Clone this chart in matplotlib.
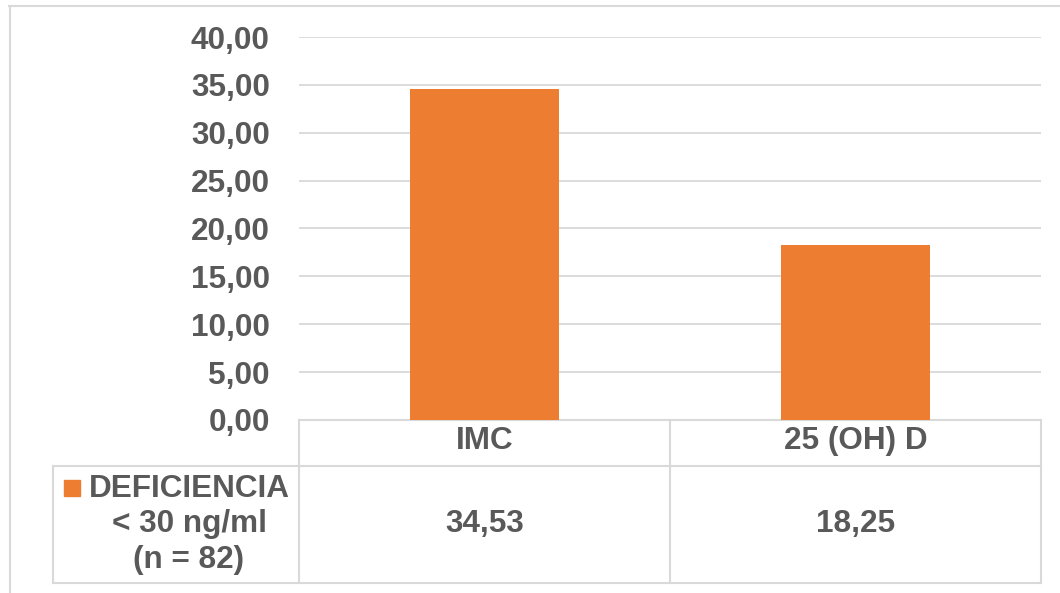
import matplotlib
matplotlib.use("Agg")
import matplotlib.pyplot as plt
from matplotlib.patches import Rectangle
from matplotlib.lines import Line2D

categorias = ["IMC", "25 (OH) D"]
valores = [34.53, 18.25]
serie = ["DEFICIENCIA", "< 30 ng/ml", "(n = 82)"]
yticks = [0, 5, 10, 15, 20, 25, 30, 35, 40]

naranja = "#ED7D31"
gris_txt = "#595959"
gris_lin = "#D9D9D9"
fs = 22.7

plt.rcParams['font.family'] = ['Liberation Sans', 'DejaVu Sans']

W, H = 1060, 593
fig = plt.figure(figsize=(W / 100, H / 100), dpi=100)

# plot area in pixels: x 299..1041, y 37..420
x0, x1, ytop, ybot = 299, 1041, 37, 420
ax = fig.add_axes([x0 / W, (H - ybot) / H, (x1 - x0) / W, (ybot - ytop) / H])

xs = list(range(len(categorias)))
ax.bar(xs, valores, width=0.4, color=naranja, zorder=3)
ax.set_xlim(-0.5, len(categorias) - 0.5)
ax.set_ylim(0, 40)
ax.set_yticks(yticks)
ax.set_yticklabels(["{:.2f}".format(v).replace(".", ",") for v in yticks],
                   fontsize=fs, fontweight="bold", color=gris_txt)
ax.tick_params(axis="y", length=0, pad=21)
ax.set_xticks([])
ax.grid(axis="y", color=gris_lin, linewidth=1.3, zorder=0)
for s in ax.spines.values():
    s.set_visible(False)

# data table under the plot (x in data units, y in axes units)
tr = ax.get_xaxis_transform()
def ay(py):
    return (ybot - py) / (ybot - ytop)

r1, r2 = ay(466), ay(583)
xleft = (53 - x0) / ((x1 - x0) / len(categorias)) - 0.5
kw = dict(color=gris_lin, linewidth=1.5, transform=tr, clip_on=False)
ax.add_line(Line2D([-0.5, 1.5], [0, 0], **kw))
ax.add_line(Line2D([xleft, 1.5], [r1, r1], **kw))
ax.add_line(Line2D([xleft, 1.5], [r2, r2], **kw))
ax.add_line(Line2D([xleft, xleft], [r1, r2], **kw))
for xb in [-0.5, 0.5, 1.5]:
    ax.add_line(Line2D([xb, xb], [0, r2], **kw))

tk = dict(fontsize=fs, fontweight="bold", color=gris_txt, transform=tr,
          ha="center", va="center", clip_on=False)
for x, cat, v in zip(xs, categorias, valores):
    ax.text(x, ay(441), cat, **tk)
    ax.text(x, ay(524), "{:.2f}".format(v).replace(".", ","), **tk)

# series label in the left cell
for linea, py in zip(serie, [489, 524, 560]):
    fig.text(189 / W, 1 - py / H, linea, fontsize=fs, fontweight="bold",
             color=gris_txt, ha="center", va="center")
fig.patches.append(Rectangle((64 / W, 1 - 496 / H), 16 / W, 16 / H,
                             transform=fig.transFigure, color=naranja))

# outer chart frame (top and left edges visible)
fig.add_artist(Line2D([9 / W, 1], [1 - 5.5 / H, 1 - 5.5 / H],
                      transform=fig.transFigure, color=gris_lin, linewidth=1.5))
fig.add_artist(Line2D([9.5 / W, 9.5 / W], [0, 1 - 5.5 / H],
                      transform=fig.transFigure, color=gris_lin, linewidth=1.5))

fig.savefig("out.png", dpi=100, facecolor="white")
